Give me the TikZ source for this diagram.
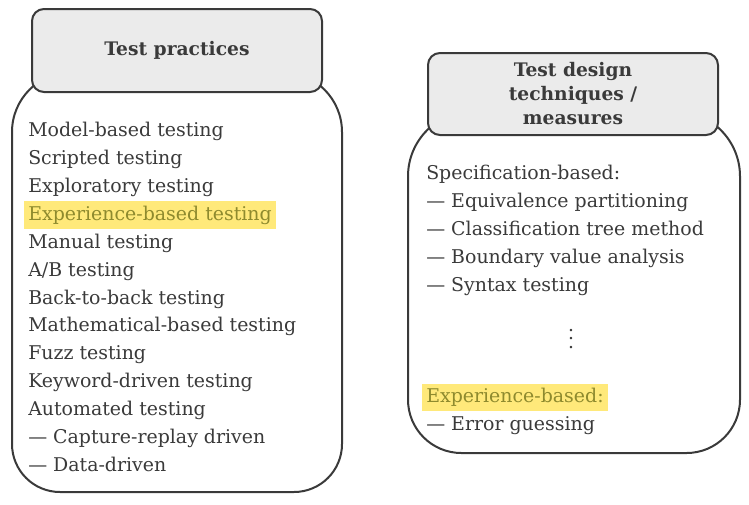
\documentclass[tikz,border=0pt]{standalone}
\usepackage{fontspec}
\setmainfont{DejaVu Serif}
\definecolor{jarline}{HTML}{3A3A3A}
\definecolor{lidfill}{HTML}{EBEBEB}
\definecolor{inktext}{HTML}{3A3A3A}
\definecolor{markfill}{HTML}{FFE97A}
\definecolor{marktext}{HTML}{8E8A2E}
\tikzstyle{jar} = [draw=jarline, line width=1.5pt, fill=white]
\tikzstyle{lidbox} = [draw=jarline, line width=1.5pt, fill=lidfill, rounded corners=9pt, minimum width=217.5pt, text=inktext, align=center, font=\bfseries\fontsize{14}{18}\selectfont]
\tikzstyle{item} = [anchor=north west, font=\fontsize{14.2}{16}\selectfont, text=inktext, inner xsep=3pt, inner ysep=0pt, text height=14.5pt, text depth=6pt]
\tikzstyle{marked} = [item, fill=markfill, text=marktext]

\begin{document}
\begin{tikzpicture}[x=0.75pt, y=-0.75pt]
    \useasboundingbox (0,0) rectangle (749,504);
    % left jar
    \draw [jar] (177,72) [rounded corners=45pt] -- (12,72) [rounded corners=36pt] -- (12,492) -- (342,492) [rounded corners=45pt] -- (342,72) -- cycle;
    \node (practices) [lidbox, minimum height=62.25pt] at (177,50.5) {Test practices};
    \node (p1) [item] at (24,117.3) {Model-based testing};
    \node (p2) [item] at (p1.south west) {Scripted testing};
    \node (p3) [item] at (p2.south west) {Exploratory testing};
    \node (p4) [marked] at (p3.south west) {Experience-based testing};
    \node (p5) [item] at (p4.south west) {Manual testing};
    \node (p6) [item] at (p5.south west) {A/B testing};
    \node (p7) [item] at (p6.south west) {Back-to-back testing};
    \node (p8) [item] at (p7.south west) {Mathematical-based testing};
    \node (p9) [item] at (p8.south west) {Fuzz testing};
    \node (p10) [item] at (p9.south west) {Keyword-driven testing};
    \node (p11) [item] at (p10.south west) {Automated testing};
    \node (p12) [item] at (p11.south west) {— Capture-replay driven};
    \node (p13) [item] at (p12.south west) {— Data-driven};
    % right jar
    \draw [jar] (574,111) [rounded corners=49pt] -- (408,111) [rounded corners=40pt] -- (408,453) -- (740,453) [rounded corners=49pt] -- (740,111) -- cycle;
    \node (techniques) [lidbox, minimum height=61.5pt] at (573,94) {Test design\\techniques /\\measures};
    \node (t1) [item] at (422,160.3) {Specification-based:};
    \node (t2) [item] at (t1.south west) {— Equivalence partitioning};
    \node (t3) [item] at (t2.south west) {— Classification tree method};
    \node (t4) [item] at (t3.south west) {— Boundary value analysis};
    \node (t5) [item] at (t4.south west) {— Syntax testing};
    \node (dots) [text=inktext, align=center, font=\fontsize{14}{6.4}\selectfont] at (571,339) {.\\.\\.};
    \node (t6) [marked] at (422,383.3) {Experience-based:};
    \node (t7) [item] at (t6.south west) {— Error guessing};
\end{tikzpicture}
\end{document}
